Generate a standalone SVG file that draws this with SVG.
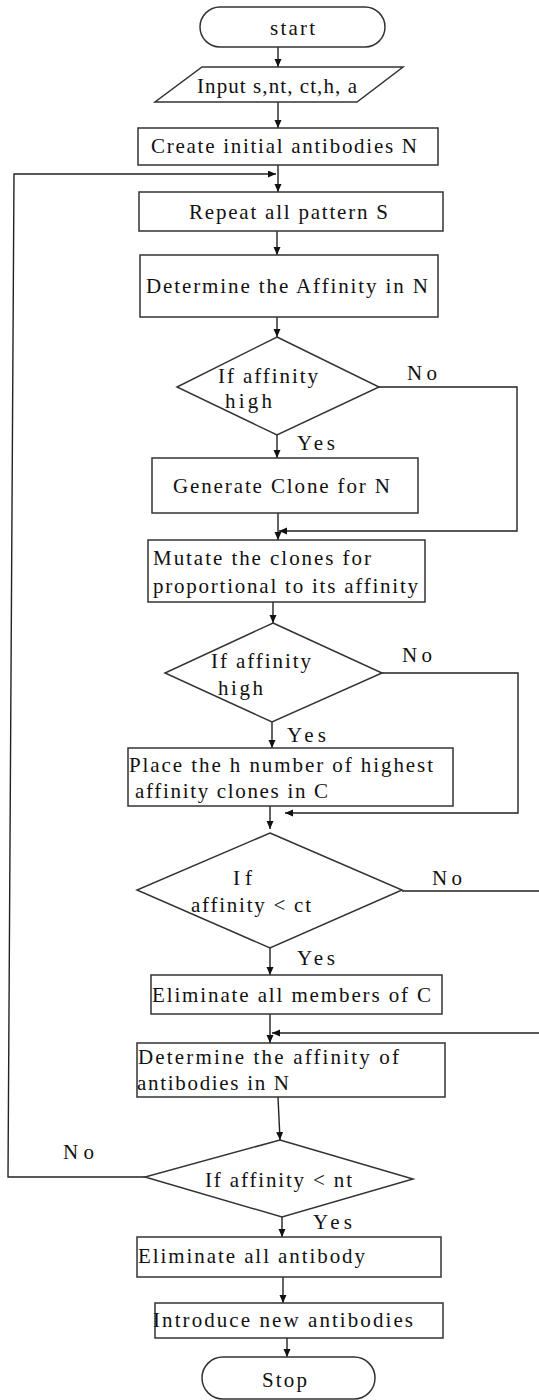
<svg xmlns="http://www.w3.org/2000/svg" width="539" height="1400" viewBox="0 0 539 1400">
<style>
.s{fill:#fff;stroke:#333;stroke-width:1.5}
.c{fill:none;stroke:#222;stroke-width:1.4}
.t{font-family:"Liberation Serif","Times New Roman",serif;font-size:21px;fill:#111}
</style>
<defs>
<marker id="ah" markerUnits="userSpaceOnUse" markerWidth="9" markerHeight="8" refX="8" refY="3.5" orient="auto">
<path d="M0,0 L8,3.5 L0,7 z" fill="#111"/>
</marker>
</defs>
<rect width="539" height="1400" fill="#fff"/>
<g id="connectors">
<line class="c" x1="278" y1="47" x2="278" y2="67" marker-end="url(#ah)"/>
<line class="c" x1="278" y1="102" x2="278" y2="128" marker-end="url(#ah)"/>
<line class="c" x1="278" y1="165" x2="278" y2="192" marker-end="url(#ah)"/>
<line class="c" x1="277" y1="231" x2="277" y2="255" marker-end="url(#ah)"/>
<line class="c" x1="277" y1="317" x2="277" y2="337" marker-end="url(#ah)"/>
<line class="c" x1="277" y1="435" x2="277" y2="458" marker-end="url(#ah)"/>
<path class="c" d="M379,387 H517 V531 H279" marker-end="url(#ah)"/>
<line class="c" x1="278" y1="513" x2="278" y2="540" marker-end="url(#ah)"/>
<line class="c" x1="273" y1="602" x2="273" y2="623" marker-end="url(#ah)"/>
<line class="c" x1="272" y1="722" x2="272" y2="748" marker-end="url(#ah)"/>
<path class="c" d="M382,673 H518 V813 H285" marker-end="url(#ah)"/>
<line class="c" x1="270" y1="806" x2="270" y2="829" marker-end="url(#ah)"/>
<line class="c" x1="270" y1="948" x2="270" y2="975" marker-end="url(#ah)"/>
<path class="c" d="M402,891 H542 V1033 H272" marker-end="url(#ah)"/>
<line class="c" x1="270" y1="1014" x2="270" y2="1043" marker-end="url(#ah)"/>
<line class="c" x1="278" y1="1097" x2="280" y2="1140" marker-end="url(#ah)"/>
<path class="c" d="M145,1177 H8 L14,174 H276" marker-end="url(#ah)"/>
<line class="c" x1="282" y1="1217" x2="282" y2="1237" marker-end="url(#ah)"/>
<line class="c" x1="283" y1="1277" x2="283" y2="1303" marker-end="url(#ah)"/>
<line class="c" x1="287" y1="1338" x2="287" y2="1357" marker-end="url(#ah)"/>
<text class="t" x="407" y="380" textLength="30" lengthAdjust="spacing">No</text>
<text class="t" x="297" y="450" textLength="38" lengthAdjust="spacing">Yes</text>
<text class="t" x="402" y="662" textLength="30" lengthAdjust="spacing">No</text>
<text class="t" x="287" y="742" textLength="39" lengthAdjust="spacing">Yes</text>
<text class="t" x="432" y="885" textLength="30" lengthAdjust="spacing">No</text>
<text class="t" x="297" y="965" textLength="38" lengthAdjust="spacing">Yes</text>
<text class="t" x="63" y="1159" textLength="31" lengthAdjust="spacing">No</text>
<text class="t" x="313" y="1229" textLength="39" lengthAdjust="spacing">Yes</text>
</g>
<g id="start">
<rect class="s" x="200" y="7" width="185" height="40" rx="20"/>
<text class="t" x="270" y="35" textLength="45" lengthAdjust="spacing">start</text>
</g>
<g id="input">
<polygon class="s" points="202,67 403,67 357,102 155,102"/>
<text class="t" x="197" y="93" textLength="160" lengthAdjust="spacing">Input s,nt, ct,h, a</text>
</g>
<g id="create">
<rect class="s" x="138" y="128" width="300" height="37"/>
<text class="t" x="151" y="153" textLength="266" lengthAdjust="spacing">Create initial antibodies N</text>
</g>
<g id="repeat">
<rect class="s" x="139" y="192" width="304" height="39"/>
<text class="t" x="189" y="219" textLength="199" lengthAdjust="spacing">Repeat all pattern S</text>
</g>
<g id="determine1">
<rect class="s" x="140" y="255" width="298" height="62"/>
<text class="t" x="146" y="293" textLength="282" lengthAdjust="spacing">Determine the Affinity in N</text>
</g>
<g id="decision1">
<polygon class="s" points="277,337 379,387 277,435 177,387"/>
<text class="t" x="218" y="383" textLength="100" lengthAdjust="spacing">If affinity</text>
<text class="t" x="225" y="408" textLength="47" lengthAdjust="spacing">high</text>
</g>
<g id="generate">
<rect class="s" x="152" y="458" width="266" height="55"/>
<text class="t" x="173" y="493" textLength="217" lengthAdjust="spacing">Generate Clone for N</text>
</g>
<g id="mutate">
<rect class="s" x="148" y="540" width="277" height="62"/>
<text class="t" x="153" y="565" textLength="218" lengthAdjust="spacing">Mutate the clones for</text>
<text class="t" x="153" y="593" textLength="265" lengthAdjust="spacing">proportional to its affinity</text>
</g>
<g id="decision2">
<polygon class="s" points="273,623 382,673 272,722 165,673"/>
<text class="t" x="211" y="668" textLength="100" lengthAdjust="spacing">If affinity</text>
<text class="t" x="218" y="695" textLength="45" lengthAdjust="spacing">high</text>
</g>
<g id="place">
<rect class="s" x="128" y="748" width="325" height="58"/>
<text class="t" x="129" y="772" textLength="304" lengthAdjust="spacing">Place the h number of highest</text>
<text class="t" x="135" y="798" textLength="193" lengthAdjust="spacing">affinity clones in C</text>
</g>
<g id="decision3">
<polygon class="s" points="270,833 402,890 270,948 137,890"/>
<text class="t" x="233" y="885" textLength="19" lengthAdjust="spacing">If</text>
<text class="t" x="191" y="912" textLength="120" lengthAdjust="spacing">affinity &lt; ct</text>
</g>
<g id="eliminateC">
<rect class="s" x="151" y="975" width="291" height="39"/>
<text class="t" x="152" y="1002" textLength="279" lengthAdjust="spacing">Eliminate all members of C</text>
</g>
<g id="determine2">
<rect class="s" x="137" y="1043" width="308" height="54"/>
<text class="t" x="138" y="1064" textLength="261" lengthAdjust="spacing">Determine the affinity  of</text>
<text class="t" x="137" y="1090" textLength="152" lengthAdjust="spacing">antibodies in N</text>
</g>
<g id="decision4">
<polygon class="s" points="280,1140 413,1179 282,1217 145,1177"/>
<text class="t" x="205" y="1187" textLength="147" lengthAdjust="spacing">If affinity &lt; nt</text>
</g>
<g id="eliminateAll">
<rect class="s" x="137" y="1237" width="304" height="40"/>
<text class="t" x="138" y="1263" textLength="227" lengthAdjust="spacing">Eliminate all antibody</text>
</g>
<g id="introduce">
<rect class="s" x="155" y="1303" width="288" height="35"/>
<text class="t" x="153" y="1327" textLength="260" lengthAdjust="spacing">Introduce new antibodies</text>
</g>
<g id="stop">
<rect class="s" x="202" y="1357" width="173" height="42" rx="21"/>
<text class="t" x="262" y="1387" textLength="45" lengthAdjust="spacing">Stop</text>
</g>
</svg>
